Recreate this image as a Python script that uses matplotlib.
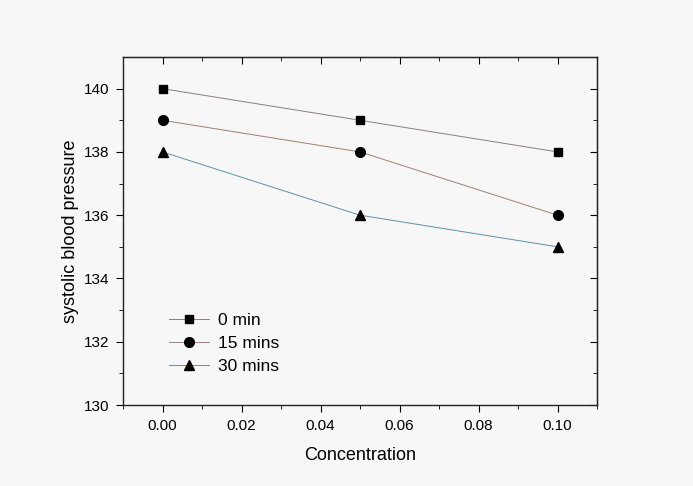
import numpy as np
import matplotlib.pyplot as plt

conc = [0.00, 0.05, 0.10]
bp_0 = [140, 139, 138]
bp_15 = [139, 138, 136]
bp_30 = [138, 136, 135]

plt.rcParams['font.family'] = ['Arial', 'Liberation Sans', 'DejaVu Sans']

fig = plt.figure(figsize=(6.93, 4.86), dpi=100, facecolor='#f7f7f7')
ax = fig.add_axes([123/693, 1 - 405/486, (597-123)/693, (405-57)/486])
ax.set_facecolor('#f7f7f7')

ax.plot(conc, bp_0, '-s', color='#8a8080', lw=0.7, mfc='black', mec='black', ms=6, label='0 min')
ax.plot(conc, bp_15, '-o', color='#a08070', lw=0.7, mfc='black', mec='black', ms=7, label='15 mins')
ax.plot(conc, bp_30, '-^', color='#6090a8', lw=0.7, mfc='black', mec='black', ms=7, label='30 mins')

ax.set_xlim(-0.01, 0.11)
ax.set_ylim(130, 141)
ax.set_xticks(np.arange(0, 0.101, 0.02))
ax.set_xticks(np.arange(-0.01, 0.111, 0.01), minor=True)
ax.set_yticks(np.arange(130, 141, 2))
ax.set_yticks(np.arange(130, 141, 1), minor=True)
ax.xaxis.set_major_formatter(plt.FormatStrFormatter('%.2f'))

ax.tick_params(which='both', direction='out', top=False, right=False, labelsize=11)
ax.tick_params(which='major', length=5, pad=5)
ax.tick_params(which='minor', length=3)
for s in ax.spines.values():
    s.set_linewidth(1.0)
    s.set_color('#222222')

# inward ticks on top and right
ax2 = ax.secondary_xaxis('top')
ax2.set_xticks(np.arange(0, 0.101, 0.02))
ax2.set_xticks(np.arange(-0.01, 0.111, 0.01), minor=True)
ax2.tick_params(which='both', direction='in', labeltop=False)
ax2.tick_params(which='major', length=5)
ax2.tick_params(which='minor', length=3)
ax3 = ax.secondary_yaxis('right')
ax3.set_yticks(np.arange(130, 141, 2))
ax3.set_yticks(np.arange(130, 141, 1), minor=True)
ax3.tick_params(which='both', direction='in', labelright=False)
ax3.tick_params(which='major', length=5)
ax3.tick_params(which='minor', length=3)

ax.set_xlabel('Concentration', fontsize=13, labelpad=10)
ax.set_ylabel('systolic blood pressure', fontsize=13, labelpad=3)

ax.legend(loc='lower left', bbox_to_anchor=(0.065, 0.045), frameon=False, fontsize=12.5,
          handlelength=2.3, handletextpad=0.5, labelspacing=0.45)

fig.savefig('out.png', dpi=100, facecolor=fig.get_facecolor())
